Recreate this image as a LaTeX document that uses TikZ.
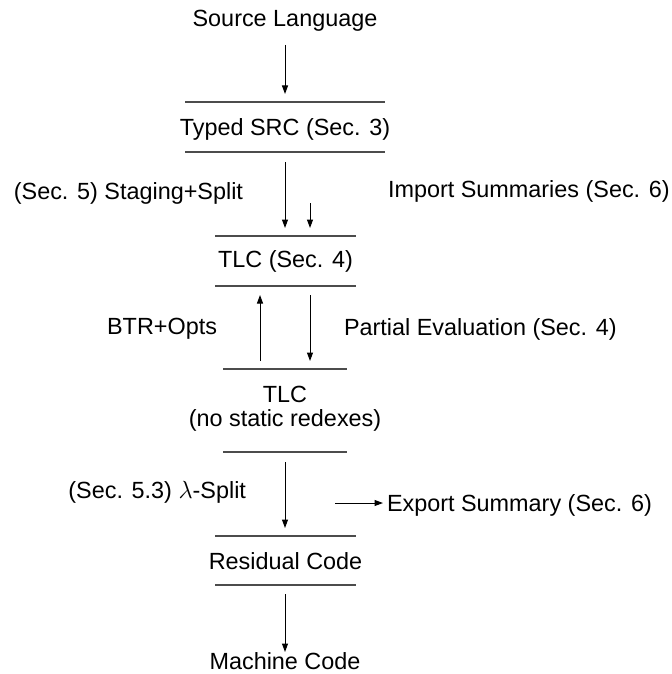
\documentclass[tikz,border=0pt]{standalone}
\usepackage{fontspec}
\setmainfont{Liberation Sans}
\usetikzlibrary{arrows.meta}
\tikzset{
  lbl/.style={font=\fontsize{23.4bp}{26bp}\selectfont, inner sep=0pt, outer sep=0pt},
  bar/.style={line width=1.1bp, black!70},
  arr/.style={line width=1bp, -{Triangle[length=8.5bp,width=6bp]}}
}
\begin{document}
\begin{tikzpicture}[x=1bp,y=-1bp]
\useasboundingbox (0,0) rectangle (672,674);
% texts
\node[lbl, anchor=base] (src) at (285,26.7) {Source Language};
\node[lbl, anchor=base] (typed) at (285,135) {Typed SRC (Sec. 3)};
\node[lbl, anchor=base] (tlc) at (285.5,267.3) {TLC (Sec. 4)};
\node[lbl, anchor=base] (tlcb) at (285,402.7) {TLC};
\node[lbl, anchor=base] (tlcc) at (285,426.7) {(no static redexes)};
\node[lbl, anchor=base] (res) at (285.5,569.3) {Residual Code};
\node[lbl, anchor=base] (mach) at (285,669.5) {Machine Code};
\node[lbl, anchor=base east] (stag) at (243,199.3) {(Sec. 5) Staging+Split};
\node[lbl, anchor=base west] (imp) at (388,197.5) {Import Summaries (Sec. 6)};
\node[lbl, anchor=base east] (btr) at (217,334.5) {BTR+Opts};
\node[lbl, anchor=base west] (pe) at (344,335.5) {Partial Evaluation (Sec. 4)};
\node[lbl, anchor=base east] (lsplit) at (246,498) {(Sec. 5.3) $\lambda$-Split};
\node[lbl, anchor=base west] (exp) at (387,511) {Export Summary (Sec. 6)};
% bars
\coordinate (a1) at (185,102); \coordinate (a2) at (385,102);
\coordinate (b1) at (185,152); \coordinate (b2) at (385,152);
\coordinate (c1) at (215,236); \coordinate (c2) at (356,236);
\coordinate (d1) at (215,286); \coordinate (d2) at (356,286);
\coordinate (e1) at (223,369); \coordinate (e2) at (347,369);
\coordinate (f1) at (223,452); \coordinate (f2) at (347,452);
\coordinate (g1) at (215,536); \coordinate (g2) at (356,536);
\coordinate (h1) at (215,585); \coordinate (h2) at (356,585);
\foreach \p in {a,b,c,d,e,f,g,h} \draw[bar] (\p1) -- (\p2);
% arrow end points
\coordinate (s1) at (285,45);  \coordinate (s2) at (285,94);
\coordinate (t1) at (285,162); \coordinate (t2) at (285,228);
\coordinate (i1) at (310,203); \coordinate (i2) at (310,228);
\coordinate (u1) at (260,361); \coordinate (u2) at (260,295);
\coordinate (p1) at (310,295); \coordinate (p2) at (310,361);
\coordinate (l1) at (285,462); \coordinate (l2) at (285,528);
\coordinate (x1) at (335,503); \coordinate (x2) at (383,503);
\coordinate (m1) at (285,594); \coordinate (m2) at (285,652);
\draw[arr] (s1) -- (s2);
\draw[arr] (t1) -- (t2);
\draw[arr] (i1) -- (i2);
\draw[arr] (u1) -- (u2);
\draw[arr] (p1) -- (p2);
\draw[arr] (l1) -- (l2);
\draw[arr] (x1) -- (x2);
\draw[arr] (m1) -- (m2);
\end{tikzpicture}
\end{document}
